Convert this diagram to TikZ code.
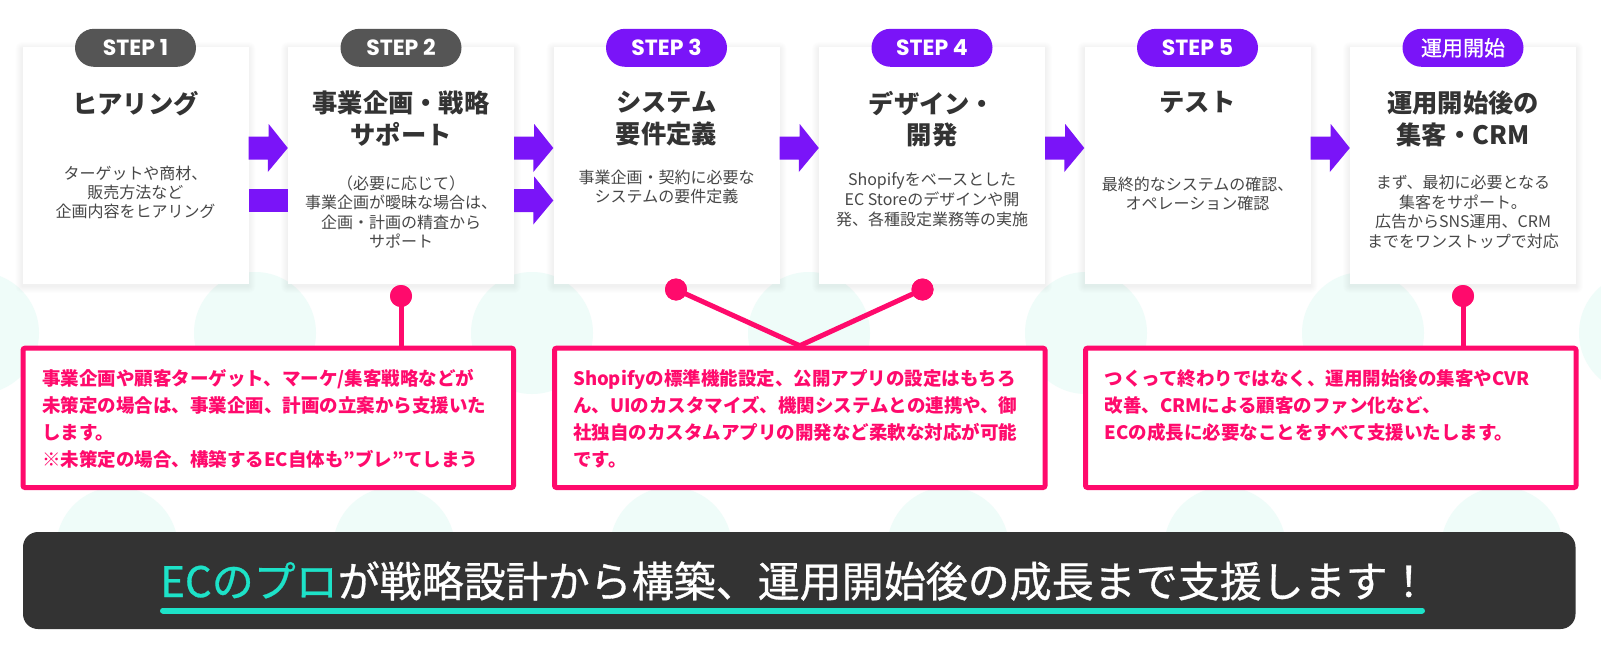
\documentclass[tikz,border=0pt]{standalone}
\usepackage{fontspec}
\setmainfont{Noto Sans CJK JP}
\newfontfamily\popfont{Poppins}
\newfontfamily\medjp{Noto Sans CJK JP}[FakeBold=0.7]
\usetikzlibrary{calc}
\definecolor{purp}{HTML}{7A14F8}
\definecolor{pinkc}{HTML}{FF0A6C}
\definecolor{tealc}{HTML}{1DE2C8}
\definecolor{bannerc}{HTML}{333333}
\definecolor{pillgrayc}{HTML}{555555}
\definecolor{circc}{HTML}{EFFCF9}
\definecolor{titlec}{HTML}{333333}
\definecolor{descc}{HTML}{474747}
\tikzset{
  stepbox/.style={fill=white, minimum width=226pt, minimum height=237pt, inner sep=0pt},
  pillbase/.style={rounded corners=19pt, minimum width=121pt, minimum height=38pt, inner sep=0pt, text=white, font=\popfont\bfseries\fontsize{22}{22}\selectfont},
  pillgray/.style={pillbase, fill=pillgrayc},
  pillpurp/.style={pillbase, fill=purp},
  titletext/.style={anchor=north, inner sep=0pt, align=center, text=titlec, font=\bfseries\fontsize{25.3}{30}\selectfont},
  desctext/.style={anchor=north, inner sep=0pt, align=center, text=descc, font=\fontsize{16}{19.4}\selectfont},
  callout/.style={draw=pinkc, line width=5pt, fill=white, rounded corners=2pt, minimum width=490.5pt, minimum height=139.3pt, inner sep=0pt},
  callouttext/.style={anchor=north west, inner sep=0pt, align=left, text=pinkc, font=\bfseries\fontsize{18.5}{26.8}\selectfont},
  pinkline/.style={draw=pinkc, line width=5pt},
  pinkdot/.style={circle, fill=pinkc, minimum size=22pt, inner sep=0pt},
  arrowc/.style={fill=purp},
  bgcirc/.style={fill=circc},
}
\newcommand\flowarrow[3]{%
  \fill[arrowc] (#1.east |- #3) ++(0,-11.5) -- ++(20,0) -- ++(0,-12.5)
    -- (#2.west |- #3) -- ($(#2.west |- #3)+(-20,24)$) -- ++(0,-12.5)
    -- ($(#1.east |- #3)+(0,11.5)$) -- cycle;}
\begin{document}
\begin{tikzpicture}[x=1pt,y=-1pt]
\useasboundingbox (0,0) rectangle (1601,653);
\clip (0,0) rectangle (1601,653);
\fill[white] (0,0) rectangle (1601,653);
% background circles
\foreach \x in {-22,255,532,809,1086,1363,1640} \fill[bgcirc] (\x,333) circle[radius=61];
\foreach \x in {117,394,671,948,1225,1502} \fill[bgcirc] (\x,548) circle[radius=61];
% shadows
\foreach \i in {0,...,5}{
  \pgfmathsetmacro\lx{22.5+265.5*\i}
  \pgfmathsetmacro\rx{248.5+265.5*\i}
  \foreach \k in {1,...,7}{
    \fill[black, opacity=0.009, rounded corners=\k pt] (\lx-\k,47-\k+2) rectangle (\rx+\k,284+\k+2);
  }
}
% step boxes
\node[stepbox] (b1) at (135.5,165.5) {};
\node[stepbox] (b2) at (401,165.5) {};
\node[stepbox] (b3) at (666.5,165.5) {};
\node[stepbox] (b4) at (932,165.5) {};
\node[stepbox] (b5) at (1197.5,165.5) {};
\node[stepbox] (b6) at (1463,165.5) {};
% pills
\node[pillgray] (p1) at ([yshift=-1pt]b1.north) {STEP 1};
\node[pillgray] (p2) at ([yshift=-1pt]b2.north) {STEP 2};
\node[pillpurp] (p3) at ([yshift=-1pt]b3.north) {STEP 3};
\node[pillpurp] (p4) at ([yshift=-1pt]b4.north) {STEP 4};
\node[pillpurp] (p5) at ([yshift=-1pt]b5.north) {STEP 5};
\node[pillpurp, font=\medjp\fontsize{21}{21}\selectfont] (p6) at ([yshift=-1pt]b6.north) {運用開始};
% titles
\node[titletext] (t1) at (135.5,90.6) {\strut ヒアリング};
\node[titletext] (t2) at (401,90.6) {\strut 事業企画・戦略\\サポート};
\node[titletext] (t3) at (666.5,90.6) {\strut システム\\要件定義};
\node[titletext] (t4) at (932,90.6) {\strut デザイン・\\開発};
\node[titletext] (t5) at (1197.5,90.6) {\strut テスト};
\node[titletext] (t6) at (1463,90.6) {\strut 運用開始後の\\集客・CRM};
% descriptions
\node[desctext] (d1) at (135.5,165.4) {\strut ターゲットや商材、\\販売方法など\\企画内容をヒアリング};
\node[desctext] (d2) at (401,175.4) {\strut （必要に応じて）\\事業企画が曖昧な場合は、\\企画・計画の精査から\\サポート};
\node[desctext] (d3) at (666.5,169.4) {\strut 事業企画・契約に必要な\\システムの要件定義};
\node[desctext] (d4) at (932,171.4) {\strut Shopifyをベースとした\\EC Storeのデザインや開\\発、各種設定業務等の実施};
\node[desctext] (d5) at (1197.5,176.4) {\strut 最終的なシステムの確認、\\オペレーション確認};
\node[desctext] (d6) at (1463,174.4) {\strut まず、最初に必要となる\\集客をサポート。\\広告からSNS運用、CRM\\までをワンストップで対応};
% arrows
\coordinate (ya) at (0,148);
\coordinate (yb) at (0,200.5);
\flowarrow{b1}{b2}{ya}
\fill[arrowc] (b1.east |- 0,189) rectangle (b2.west |- 0,212);
\flowarrow{b2}{b3}{ya}
\flowarrow{b2}{b3}{yb}
\flowarrow{b3}{b4}{ya}
\flowarrow{b4}{b5}{ya}
\flowarrow{b5}{b6}{ya}
% callouts
\node[callout] (c1) at (268.25,417.85) {};
\node[callout] (c2) at (799.75,417.85) {};
\node[callout] (c3) at (1330.75,417.85) {};
\node[callouttext] (ct1) at (42,366.8) {\strut 事業企画や顧客ターゲット、マーケ/集客戦略などが\\未策定の場合は、事業企画、計画の立案から支援いた\\します。\\※未策定の場合、構築するEC自体も”ブレ”てしまう};
\node[callouttext] (ct2) at (573,366.8) {\strut Shopifyの標準機能設定、公開アプリの設定はもちろ\\ん、UIのカスタマイズ、機関システムとの連携や、御\\社独自のカスタムアプリの開発など柔軟な対応が可能\\です。};
\node[callouttext] (ct3) at (1104.5,366.8) {\strut つくって終わりではなく、運用開始後の集客やCVR\\改善、CRMによる顧客のファン化など、\\ECの成長に必要なことをすべて支援いたします。};
% connectors
\node[pinkdot] (k2) at (401,296) {};
\node[pinkdot] (k3) at (676,289.5) {};
\node[pinkdot] (k4) at (922.5,289.5) {};
\node[pinkdot] (k6) at (1463,296) {};
\draw[pinkline] (k2.center) -- (c1.north -| k2.center);
\draw[pinkline] (k3.center) -- (c2.north);
\draw[pinkline] (k4.center) -- (c2.north);
\draw[pinkline] (k6.center) -- (c3.north -| k6.center);
\node[pinkdot] at (k2) {};
\node[pinkdot] at (k3) {};
\node[pinkdot] at (k4) {};
\node[pinkdot] at (k6) {};
% banner
\node[fill=bannerc, rounded corners=15pt, minimum width=1552.5pt, minimum height=97pt, inner sep=0pt] (ban) at (799.25,580.5) {};
\node[anchor=base west, inner sep=0pt, text=white, font=\medjp\fontsize{42}{42}\selectfont] (bt) at (160,597) {\textcolor{tealc}{ECのプロ}が戦略設計から構築、運用開始後の成長まで支援します！};
\draw[tealc, line width=6pt, line cap=round] (163,610.5) -- (1422,610.5);
\end{tikzpicture}
\end{document}
